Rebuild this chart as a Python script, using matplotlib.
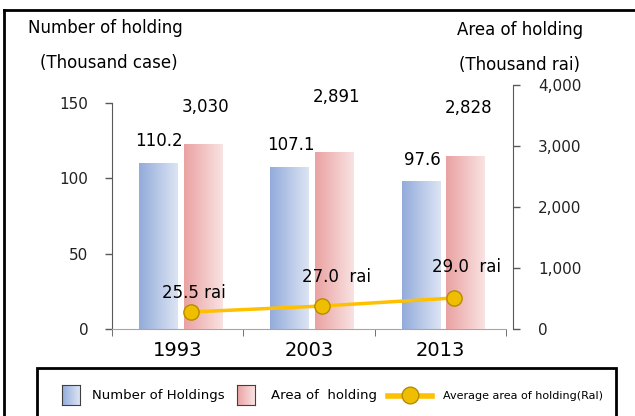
import numpy as np
import matplotlib
matplotlib.use("Agg")
import matplotlib.pyplot as plt
from matplotlib.colors import LinearSegmentedColormap
from matplotlib.lines import Line2D
from matplotlib.patches import Rectangle

years = ["1993", "2003", "2013"]
holdings = [110.2, 107.1, 97.6]          # thousand cases
area = [3030, 2891, 2828]                # thousand rai
avg_area = [25.5, 27.0, 29.0]            # rai per holding
holding_labels = ["110.2", "107.1", "97.6"]
area_labels = ["3,030", "2,891", "2,828"]
avg_labels = ["25.5 rai", "27.0  rai", "29.0  rai"]
legend_labels = ["Number of Holdings", "Area of  holding", "Average area of holding(Ral)"]

plt.rcParams['font.family'] = ['DejaVu Sans']
W, H = 635, 416
fig = plt.figure(figsize=(W / 100, H / 100), dpi=100)

def px(x, y):
    return x / W, 1 - y / H

ax = fig.add_axes([112 / W, 1 - 329 / H, 401 / W, 244 / H])
ax2 = ax.twinx()
ax3 = ax.twinx()

x = np.arange(len(years))
bw = 0.29
blue_cmap = LinearSegmentedColormap.from_list("b", ["#93ACDB", "#DCE4F3"])
red_cmap = LinearSegmentedColormap.from_list("r", ["#EAA2A2", "#F9E2E2"])
grad = np.linspace(0, 1, 64).reshape(1, -1)

def grad_bars(a, xs, vals, cmap):
    bars = a.bar(xs, vals, bw, color="none", edgecolor="none")
    for b in bars:
        x0, y0 = b.get_x(), b.get_y()
        a.imshow(grad, cmap=cmap, extent=[x0, x0 + b.get_width(), y0, y0 + b.get_height()],
                 aspect="auto", zorder=2)
    return bars

grad_bars(ax, x - 0.15, holdings, blue_cmap)
grad_bars(ax2, x + 0.19, area, red_cmap)

line_style = dict(color="#FFC000", lw=2.5, marker="o", ms=11, mfc="#EFBE00",
                  mec="#B58C00", mew=1)
ax3.plot(x + 0.1, avg_area, zorder=5, **line_style)

# limits
ax.set_xlim(-0.5, 2.553)
ax.set_ylim(0, 162)
ax2.set_ylim(0, 4000)
ax3.set_ylim(21.25, 82.25)
ax3.axis("off")

# value labels
for xi, v, t in zip(x, holdings, holding_labels):
    ax.annotate(t, (xi - 0.15, v), xytext=(1, 16), textcoords="offset points",
                ha="center", va="center", fontsize=12)
red_off = [27, 40, 35]
for xi, v, t, o in zip(x, area, area_labels, red_off):
    ax2.annotate(t, (xi + 0.19, v), xytext=(2, o), textcoords="offset points",
                 ha="center", va="center", fontsize=12)
avg_off = [(2, 14), (10, 21), (9, 22)]
for xi, v, t, o in zip(x, avg_area, avg_labels, avg_off):
    ax3.annotate(t, (xi + 0.1, v), xytext=o, textcoords="offset points",
                 ha="center", va="center", fontsize=12)

# axes styling
for a in (ax, ax2):
    for s in a.spines.values():
        s.set_visible(False)
ax.spines["left"].set_visible(True)
ax.spines["left"].set_bounds(0, 150)
ax.spines["left"].set_color("#595959")
ax.spines["bottom"].set_visible(True)
ax.spines["bottom"].set_bounds(-0.5, 2.5)
ax.spines["bottom"].set_color("#A6A6A6")
ax2.spines["right"].set_visible(True)
ax2.spines["right"].set_color("#595959")

ax.set_yticks([0, 50, 100, 150])
ax.tick_params(axis="y", length=5, width=1, color="#595959", pad=12, labelsize=11,
               labelcolor="#222222")
ax2.set_yticks([0, 1000, 2000, 3000, 4000])
ax2.set_yticklabels(["0", "1,000", "2,000", "3,000", "4,000"])
ax2.tick_params(axis="y", length=5, width=1, color="#595959", pad=13, labelsize=11,
                labelcolor="#222222")

ax.set_xticks(x)
ax.set_xticklabels(years, fontsize=14)
ax.tick_params(axis="x", length=0, pad=9)
ax.set_xticks([-0.5, 0.5, 1.5, 2.5], minor=True)
ax.tick_params(axis="x", which="minor", length=5, color="#595959")

# axis titles
fig.text(*px(28, 28), "Number of holding", fontsize=12, va="center")
fig.text(*px(40, 63), "(Thousand case)", fontsize=12, va="center")
fig.text(*px(583, 30), "Area of holding", fontsize=12, va="center", ha="right")
fig.text(*px(580, 65), "(Thousand rai)", fontsize=12, va="center", ha="right")

# outer frame
fig.add_artist(Line2D([4 / W, 4 / W], [0, 1 - 10 / H], color="black", lw=2))
fig.add_artist(Line2D([4 / W, 1], [1 - 10 / H, 1 - 10 / H], color="black", lw=2))

# legend box, drawn by hand
fig.add_artist(Rectangle(px(37, 420), 579 / W, 52 / H, fill=False, ec="black", lw=2))
for x0, cmap in [(62, blue_cmap), (237, red_cmap)]:
    lax = fig.add_axes([x0 / W, 1 - 405 / H, 18 / W, 20 / H])
    lax.imshow(grad, cmap=cmap, aspect="auto")
    lax.set_xticks([])
    lax.set_yticks([])
    for s in lax.spines.values():
        s.set_color("#404040")
fig.text(*px(92, 396), legend_labels[0], fontsize=9.5, va="center")
fig.text(*px(271, 396), legend_labels[1], fontsize=9.5, va="center")
fig.add_artist(Line2D([388 / W, 432 / W], [1 - 396 / H] * 2, color="#FFC000", lw=4))
fig.add_artist(Line2D([410 / W], [1 - 395 / H], marker="o", ms=12, mfc="#EFBE00",
                      mec="#B58C00", mew=1, ls="none"))
fig.text(*px(443, 396), legend_labels[2], fontsize=8, va="center")

fig.savefig("out.png", dpi=100)
